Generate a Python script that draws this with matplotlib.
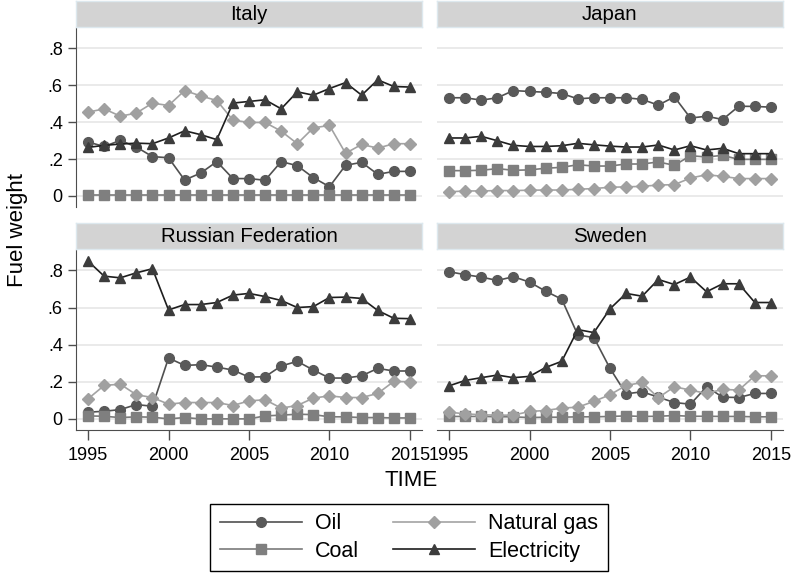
import numpy as np
import matplotlib
matplotlib.use("Agg")
import matplotlib.pyplot as plt
import matplotlib.lines as mlines

plt.rcParams['font.family'] = ['Liberation Sans', 'DejaVu Sans']

years = np.arange(1995, 2016)
countries = ["Italy", "Japan", "Russian Federation", "Sweden"]

italy_oil = [0.292, 0.268, 0.301, 0.265, 0.213, 0.207, 0.086, 0.124, 0.186, 0.094, 0.094,
             0.085, 0.186, 0.164, 0.099, 0.050, 0.166, 0.182, 0.117, 0.133, 0.133]
italy_coal = [0.005] * 21
italy_gas = [0.454, 0.472, 0.432, 0.449, 0.503, 0.490, 0.571, 0.542, 0.517, 0.411, 0.398,
             0.398, 0.351, 0.283, 0.369, 0.382, 0.231, 0.279, 0.259, 0.283, 0.283]
italy_elec = [0.263, 0.274, 0.281, 0.286, 0.283, 0.314, 0.353, 0.332, 0.305, 0.503, 0.512,
              0.521, 0.472, 0.564, 0.546, 0.582, 0.614, 0.546, 0.629, 0.593, 0.590]

japan_oil = [0.532, 0.532, 0.519, 0.532, 0.571, 0.566, 0.562, 0.555, 0.526, 0.532, 0.532,
             0.532, 0.523, 0.492, 0.537, 0.422, 0.432, 0.414, 0.486, 0.485, 0.481]
japan_coal = [0.137, 0.137, 0.139, 0.148, 0.139, 0.141, 0.150, 0.155, 0.169, 0.162, 0.162,
              0.173, 0.173, 0.184, 0.166, 0.218, 0.211, 0.220, 0.198, 0.198, 0.198]
japan_gas = [0.022, 0.027, 0.027, 0.029, 0.029, 0.031, 0.032, 0.032, 0.036, 0.040, 0.047,
             0.049, 0.052, 0.059, 0.061, 0.097, 0.115, 0.106, 0.094, 0.094, 0.094]
japan_elec = [0.314, 0.314, 0.323, 0.299, 0.274, 0.268, 0.268, 0.272, 0.285, 0.277, 0.270,
              0.265, 0.265, 0.276, 0.249, 0.272, 0.249, 0.258, 0.229, 0.229, 0.229]

russia_oil = [0.036, 0.041, 0.050, 0.077, 0.068, 0.328, 0.288, 0.292, 0.279, 0.263, 0.225,
              0.227, 0.285, 0.310, 0.263, 0.220, 0.220, 0.232, 0.272, 0.258, 0.258]
russia_coal = [0.016, 0.014, 0.007, 0.011, 0.009, 0.0, 0.007, 0.0, 0.0, 0.0, 0.0,
               0.016, 0.020, 0.025, 0.023, 0.011, 0.011, 0.007, 0.007, 0.005, 0.005]
russia_gas = [0.108, 0.180, 0.187, 0.130, 0.115, 0.079, 0.088, 0.088, 0.088, 0.072, 0.097,
              0.103, 0.058, 0.072, 0.112, 0.124, 0.115, 0.115, 0.137, 0.202, 0.200]
russia_elec = [0.850, 0.769, 0.760, 0.787, 0.809, 0.587, 0.616, 0.616, 0.627, 0.667, 0.676,
               0.659, 0.638, 0.600, 0.605, 0.654, 0.656, 0.649, 0.584, 0.542, 0.540]

sweden_oil = [0.793, 0.777, 0.764, 0.746, 0.766, 0.737, 0.688, 0.645, 0.452, 0.438, 0.272,
              0.135, 0.146, 0.117, 0.088, 0.079, 0.173, 0.117, 0.115, 0.137, 0.137]
sweden_coal = [0.013, 0.013, 0.013, 0.011, 0.011, 0.007, 0.009, 0.009, 0.011, 0.011, 0.013,
               0.016, 0.013, 0.014, 0.018, 0.014, 0.014, 0.013, 0.013, 0.011, 0.011]
sweden_gas = [0.036, 0.027, 0.022, 0.020, 0.020, 0.040, 0.045, 0.058, 0.063, 0.094, 0.130,
              0.180, 0.196, 0.114, 0.173, 0.155, 0.137, 0.159, 0.155, 0.232, 0.232]
sweden_elec = [0.178, 0.207, 0.222, 0.236, 0.222, 0.229, 0.277, 0.310, 0.481, 0.465, 0.593,
               0.676, 0.661, 0.751, 0.724, 0.764, 0.685, 0.728, 0.728, 0.627, 0.627]

data = {
    "Italy": (italy_oil, italy_coal, italy_gas, italy_elec),
    "Japan": (japan_oil, japan_coal, japan_gas, japan_elec),
    "Russian Federation": (russia_oil, russia_coal, russia_gas, russia_elec),
    "Sweden": (sweden_oil, sweden_coal, sweden_gas, sweden_elec),
}

fuels = ["Oil", "Coal", "Natural gas", "Electricity"]
# (line colour, marker colour, marker, size)
styles = [("#505050", "#595959", "o", 7),
          ("#7a7a7a", "#7f7f7f", "s", 6.5),
          ("#a3a3a3", "#a0a0a0", "D", 6.5),
          ("#1e1e1e", "#3c3c3c", "^", 7.5)]

W, H = 791, 577
fig = plt.figure(figsize=(W / 100, H / 100), dpi=100)


def frac(x0, y0, x1, y1):
    return [x0 / W, 1 - y1 / H, (x1 - x0) / W, (y1 - y0) / H]


cols = [(76, 422), (437, 783)]
rows = [((1, 27), (28, 207)), ((223, 249), (250, 430))]
spine_c = "#4d4d4d"

for i, name in enumerate(countries):
    r, c = divmod(i, 2)
    (sx0, sx1), ((ty0, ty1), (py0, py1)) = cols[c], rows[r]
    ax = fig.add_axes(frac(sx0, py0, sx1, py1))
    st = fig.add_axes(frac(sx0, ty0, sx1, ty1))
    st.set_facecolor("#d3d3d3")
    st.set_xticks([]); st.set_yticks([])
    for s in st.spines.values():
        s.set_color("#dde8ee")
        s.set_linewidth(1)
    st.text(0.5, 0.5, name, ha="center", va="center", fontsize=14.7, transform=st.transAxes)

    for vals, fuel, (lc, mc, mk, ms) in zip(data[name], fuels, styles):
        ax.plot(years, vals, color=lc, lw=1.2, marker=mk, markersize=ms,
                markerfacecolor=mc, markeredgecolor=mc, label=fuel, zorder=3)

    ax.set_xlim(1994.25, 2015.75)
    ax.set_ylim(-0.06, 0.91)
    ax.set_yticks([0, 0.2, 0.4, 0.6, 0.8])
    ax.set_xticks([1995, 2000, 2005, 2010, 2015])
    ax.grid(axis="y", color="#e6e6e6", lw=1.2, zorder=0)
    for s in ax.spines.values():
        s.set_visible(False)
        s.set_color(spine_c)
    ax.tick_params(colors=spine_c, labelcolor="black", labelsize=13, length=6, width=1)
    if c == 0:
        ax.spines["left"].set_visible(True)
        ax.set_yticklabels(["0", ".2", ".4", ".6", ".8"])
    else:
        ax.tick_params(axis="y", left=False, labelleft=False)
    if r == 1:
        ax.spines["bottom"].set_visible(True)
        ax.tick_params(axis="x", length=7, pad=5)
    else:
        ax.tick_params(axis="x", bottom=False, labelbottom=False)

fig.text(18 / W, 1 - 230 / H, "Fuel weight", rotation=90, ha="center", va="center", fontsize=16)
fig.text(411 / W, 1 - 481 / H, "TIME", ha="center", va="center", fontsize=16)

handles = [mlines.Line2D([0], [0], color=lc, lw=1.2, marker=mk, markersize=ms,
                         markerfacecolor=mc, markeredgecolor=mc, label=f)
           for f, (lc, mc, mk, ms) in zip(fuels, styles)]
leg = fig.legend(handles=handles, ncol=2, loc="center", bbox_to_anchor=(409 / W, 1 - 537.5 / H),
                 fontsize=15.5, handlelength=3.8, handletextpad=0.6, columnspacing=1.6,
                 fancybox=False, edgecolor="black", framealpha=1, borderpad=0.45,
                 labelspacing=0.3)
leg.get_frame().set_linewidth(1)

fig.savefig("out.png", dpi=100)
